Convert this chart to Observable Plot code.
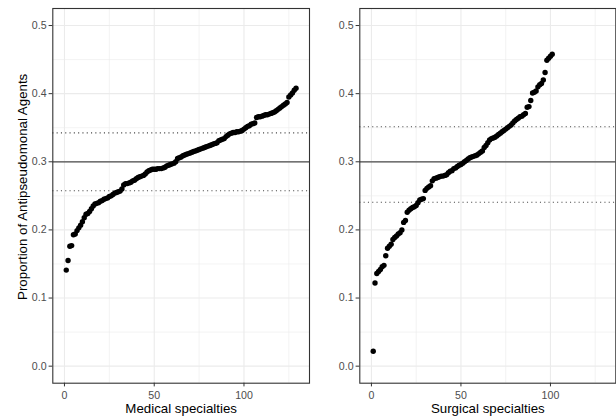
<!DOCTYPE html>
<html>
<head>
<meta charset="utf-8">
<script src="https://cdn.jsdelivr.net/npm/d3@7"></script>
<script src="https://cdn.jsdelivr.net/npm/@observablehq/plot@0.6"></script>
<style>
  html, body { margin: 0; padding: 0; background: #fff; }
  #wrap { display: flex; width: 616px; height: 416px; overflow: hidden; }
  #wrap svg { display: block; flex: none; }
</style>
</head>
<body>
<div id="wrap"></div>
<script>
// ---- data ----
const medicalValues = [
  0.141, 0.155, 0.176, 0.177, 0.193, 0.194, 0.199, 0.203, 0.207, 0.212,
  0.218, 0.223, 0.224, 0.227, 0.231, 0.235, 0.238, 0.239, 0.240, 0.242,
  0.243, 0.245, 0.246, 0.247, 0.249, 0.250, 0.252, 0.254, 0.255, 0.256,
  0.257, 0.260, 0.266, 0.268, 0.268, 0.269, 0.270, 0.272, 0.273, 0.275,
  0.277, 0.278, 0.279, 0.280, 0.282, 0.285, 0.287, 0.288, 0.289, 0.289,
  0.289, 0.290, 0.290, 0.290, 0.291, 0.292, 0.294, 0.295, 0.296, 0.297,
  0.298, 0.300, 0.305, 0.306, 0.307, 0.309, 0.310, 0.311, 0.312, 0.313,
  0.314, 0.315, 0.316, 0.317, 0.318, 0.319, 0.320, 0.321, 0.322, 0.323,
  0.324, 0.325, 0.326, 0.327, 0.328, 0.331, 0.332, 0.333, 0.334, 0.337,
  0.339, 0.341, 0.342, 0.343, 0.343, 0.344, 0.344, 0.345, 0.346, 0.348,
  0.350, 0.352, 0.353, 0.355, 0.356, 0.357, 0.365, 0.366, 0.366, 0.367,
  0.368, 0.369, 0.369, 0.370, 0.371, 0.372, 0.373, 0.375, 0.377, 0.379,
  0.381, 0.383, 0.385, 0.387, 0.395, 0.398, 0.401, 0.405, 0.408
];
const surgicalValues = [
  0.022, 0.122, 0.136, 0.139, 0.142, 0.146, 0.148, 0.162, 0.173, 0.176,
  0.179, 0.186, 0.189, 0.191, 0.194, 0.196, 0.200, 0.211, 0.214, 0.226,
  0.229, 0.231, 0.233, 0.234, 0.236, 0.240, 0.244, 0.245, 0.246, 0.258,
  0.261, 0.263, 0.265, 0.272, 0.275, 0.276, 0.277, 0.278, 0.279, 0.279,
  0.280, 0.281, 0.284, 0.286, 0.287, 0.290, 0.291, 0.293, 0.295, 0.296,
  0.298, 0.300, 0.302, 0.304, 0.306, 0.307, 0.308, 0.309, 0.310, 0.312,
  0.314, 0.316, 0.321, 0.324, 0.328, 0.332, 0.334, 0.335, 0.336, 0.338,
  0.340, 0.342, 0.344, 0.346, 0.348, 0.350, 0.352, 0.354, 0.357, 0.360,
  0.362, 0.364, 0.366, 0.367, 0.369, 0.371, 0.380, 0.381, 0.390, 0.401,
  0.402, 0.404, 0.410, 0.413, 0.415, 0.420, 0.431, 0.449, 0.452, 0.455,
  0.458
];
const centerLine = 0.3;
const medicalLimits = [0.2575, 0.3425];
const surgicalLimits = [0.2405, 0.3515];
const xTicks = [0, 50, 100];
const xMinor = [25, 75, 125];
const yTicks = [0, 0.1, 0.2, 0.3, 0.4, 0.5];
const yMinor = [0.05, 0.15, 0.25, 0.35, 0.45];
const xTitles = ["Medical specialties", "Surgical specialties"];
const yTitle = "Proportion of Antipseudomonal Agents";

const FONT = "'Liberation Sans', Arial, Helvetica, sans-serif";

function panel(values, limits, xTitle, width, marginLeft, marginRight, withYTitle) {
  const data = values.map((v, i) => ({rank: i + 1, value: v}));
  const marks = [
    Plot.ruleX(xMinor, {stroke: "#ebebeb", strokeWidth: 0.6}),
    Plot.ruleY(yMinor, {stroke: "#ebebeb", strokeWidth: 0.6}),
    Plot.ruleX(xTicks, {stroke: "#ebebeb", strokeWidth: 1.1}),
    Plot.ruleY(yTicks, {stroke: "#ebebeb", strokeWidth: 1.1}),
    Plot.ruleY([centerLine], {stroke: "#4a4a4a", strokeWidth: 1.3}),
    Plot.ruleY(limits, {stroke: "#4a4a4a", strokeWidth: 1.1, strokeDasharray: "1.1,3.2"}),
    Plot.dot(data, {x: "rank", y: "value", r: 2.7, fill: "black", stroke: null}),
    Plot.frame({stroke: "#333", strokeWidth: 1.1}),
    Plot.axisX({ticks: xTicks, tickSize: 3.7, tickPadding: 4.5, stroke: "#333", fill: "#4d4d4d", label: null, tickFormat: d3.format("d")}),
    Plot.axisY({ticks: yTicks, tickSize: 3.7, tickPadding: 2.5, stroke: "#333", fill: "#4d4d4d", label: null, tickFormat: d3.format(".1f")}),
    Plot.text([xTitle], {text: d => d, frameAnchor: "bottom", lineAnchor: "middle", textAnchor: "middle", dy: 25.5, fontSize: 13.3, fill: "#000"})
  ];
  if (withYTitle) {
    marks.push(Plot.text([yTitle], {text: d => d, frameAnchor: "left", textAnchor: "middle", lineAnchor: "middle", rotate: -90, dx: -30, dy: -9, fontSize: 13.3, fill: "#000"}));
  }
  return Plot.plot({
    width, height: 416,
    marginLeft, marginRight, marginTop: 8, marginBottom: 33.3,
    style: {fontFamily: FONT, fontSize: "10.6px", background: "#fff", overflow: "visible"},
    x: {domain: [-6.5, 136.5]},
    y: {domain: [-0.025, 0.525]},
    marks
  });
}

const wrap = document.getElementById("wrap");
wrap.appendChild(panel(medicalValues, medicalLimits, xTitles[0], 312, 52.3, 3, true));
wrap.appendChild(panel(surgicalValues, surgicalLimits, xTitles[1], 304, 47.3, 0.7, false));
</script>
</body>
</html>
